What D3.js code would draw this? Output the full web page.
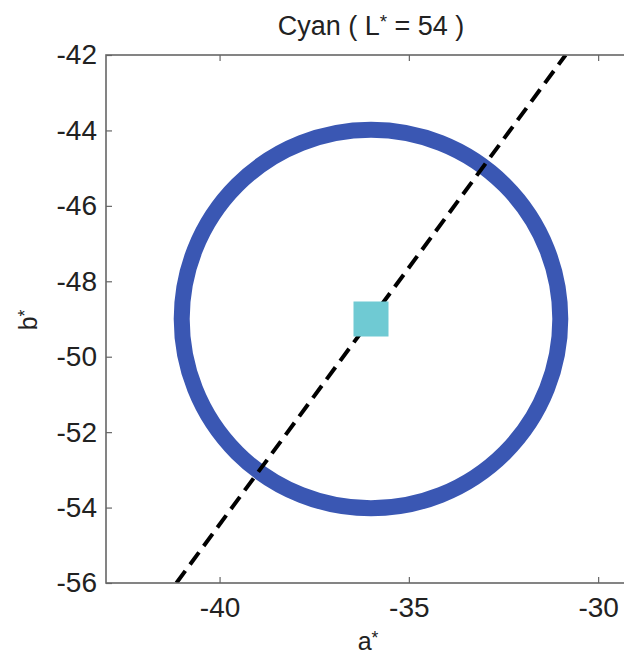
<!DOCTYPE html>
<html><head><meta charset="utf-8">
<script src="https://cdn.jsdelivr.net/npm/d3@7"></script>
<style>body{margin:0;background:#fff}svg{display:block}text{font-family:"Liberation Sans",Arial,sans-serif;fill:#222}</style>
</head><body>
<script>
const titleParts = ["Cyan ( L", "*", " = 54 )"];
const xLabelParts = ["a", "*"];
const yLabelParts = ["b", "*"];
const xDomain = [-43, -29];
const yDomain = [-56, -42];
const xTicks = [-40, -35, -30];
const yTicks = [-42, -44, -46, -48, -50, -52, -54, -56];
const centerA = [-36];
const centerB = [-49];
const radiusDE = [5];
const hueLineA = [-41.14, -30.86];
const hueLineB = [-56, -42];

const W = 624, H = 659;
const m = {left: 106, top: 55, right: 636, bottom: 583};
const svg = d3.select("body").append("svg").attr("width", W).attr("height", H);
const x = d3.scaleLinear().domain(xDomain).range([m.left, m.right]);
const y = d3.scaleLinear().domain(yDomain).range([m.bottom, m.top]);
const fmt = d => String(d);

svg.append("defs").append("clipPath").attr("id","clip").append("rect")
  .attr("x", m.left).attr("y", m.top).attr("width", m.right-m.left).attr("height", m.bottom-m.top);

const g = svg.append("g").attr("clip-path","url(#clip)");

// ring
g.append("circle")
  .attr("cx", x(centerA[0])).attr("cy", y(centerB[0]))
  .attr("r", x(centerA[0] + radiusDE[0]) - x(centerA[0]))
  .attr("fill","none").attr("stroke","#3a57b3").attr("stroke-width",16);

// hue line
const pts = hueLineA.map((a,i)=>[a, hueLineB[i]]);
g.append("path").attr("d", d3.line().x(d=>x(d[0])).y(d=>y(d[1]))(pts))
  .attr("stroke","#000").attr("stroke-width",4).attr("stroke-dasharray","15,8").attr("fill","none");

// square
const s = 35;
g.append("rect").attr("x", x(centerA[0]) - s/2).attr("y", y(centerB[0]) - s/2)
  .attr("width", s).attr("height", s).attr("fill","#6fcad3");

// axes
const axColor = "#666";
const fs = "28px";
const xb = svg.append("g").attr("transform",`translate(0,${m.bottom})`)
  .call(d3.axisBottom(x).tickValues(xTicks).tickSize(-6).tickPadding(14).tickFormat(fmt));
const xt = svg.append("g").attr("transform",`translate(0,${m.top})`)
  .call(d3.axisTop(x).tickValues(xTicks).tickSize(-6).tickFormat(""));
const yl = svg.append("g").attr("transform",`translate(${m.left},0)`)
  .call(d3.axisLeft(y).tickValues(yTicks).tickSize(-6).tickPadding(9).tickFormat(fmt));
const yr = svg.append("g").attr("transform",`translate(${m.right},0)`)
  .call(d3.axisRight(y).tickValues(yTicks).tickSize(-6).tickFormat(""));
[xb,xt,yl,yr].forEach(a=>{
  a.select(".domain").remove();
  a.selectAll(".tick line").attr("stroke",axColor).attr("stroke-width",1.2);
  a.selectAll("text").attr("font-size",fs).attr("fill","#222").attr("font-family",'"Liberation Sans",Arial,sans-serif');
});
svg.append("rect").attr("x", m.left).attr("y", m.top).attr("width", m.right-m.left).attr("height", m.bottom-m.top)
  .attr("fill","none").attr("stroke",axColor).attr("stroke-width",1.6);

function richText(sel, parts, F) {
  let shifted = false;
  parts.forEach(p => {
    if (p === "*") { sel.append("tspan").attr("font-size", (0.7*F)+"px").attr("dy", (-0.25*F)+"px").text("*"); shifted = true; }
    else { sel.append("tspan").attr("dy", shifted ? (0.25*F)+"px" : null).text(p); shifted = false; }
  });
}
richText(svg.append("text").attr("x", (m.left+m.right)/2).attr("y", 35).attr("text-anchor","middle")
  .attr("font-size","27px"), titleParts, 27);
richText(svg.append("text").attr("x", 368).attr("y", 650).attr("text-anchor","middle")
  .attr("font-size","25px"), xLabelParts, 25);
richText(svg.append("text").attr("transform","translate(37,320) rotate(-90)").attr("text-anchor","middle")
  .attr("font-size","25px"), yLabelParts, 25);
</script>
</body></html>
